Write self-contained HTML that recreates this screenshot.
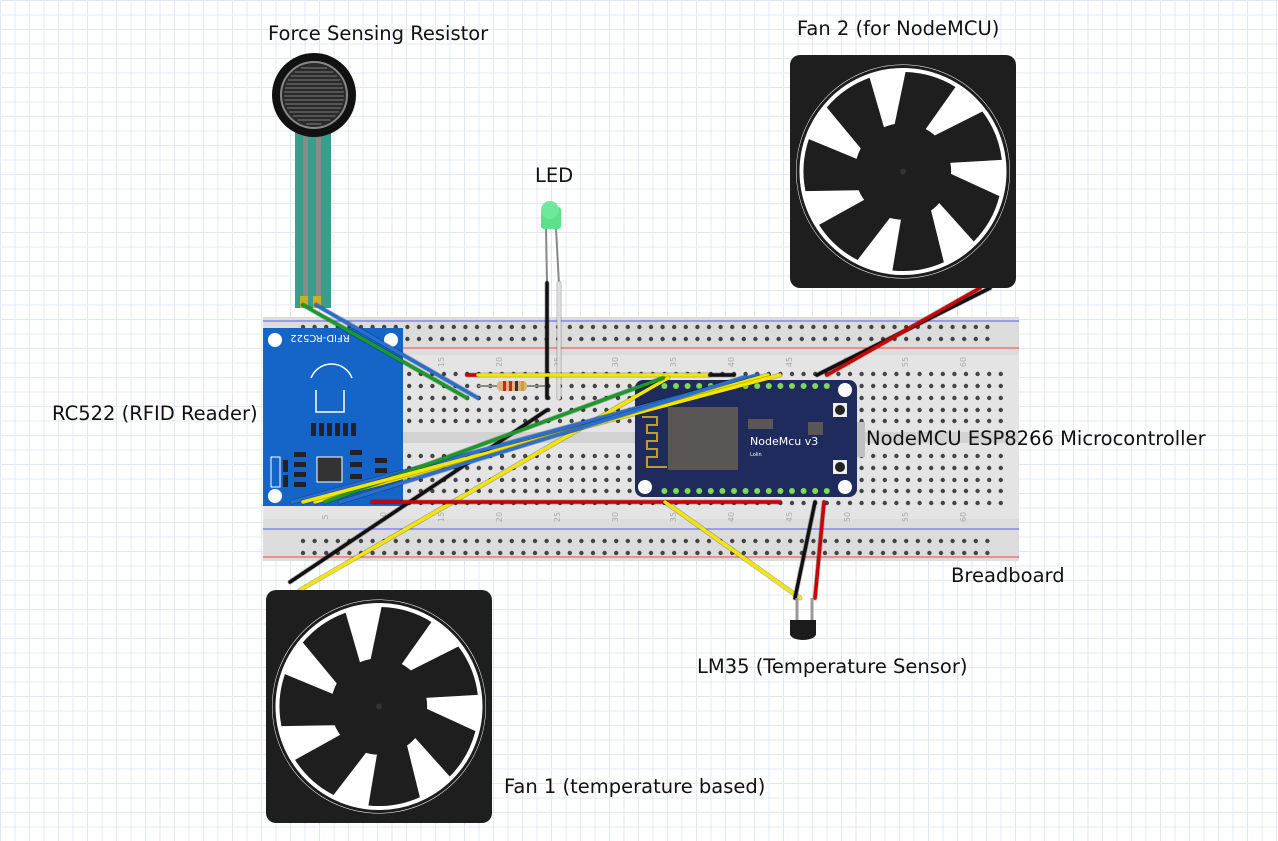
<!DOCTYPE html>
<html><head><meta charset="utf-8">
<style>
html,body{margin:0;padding:0;background:#fff;}
body{width:1278px;height:841px;overflow:hidden;position:relative;
background-image:linear-gradient(#e3e8f0 1px,transparent 1px),linear-gradient(90deg,#e3e8f0 1px,transparent 1px);background-size:14.5px 14.5px;}
svg{position:absolute;left:0;top:0;}
text{font-family:"DejaVu Sans","Liberation Sans",sans-serif;}
</style></head><body>
<svg id="s" width="1278" height="841" viewBox="0 0 1278 841">
<g>
<rect x="263" y="317" width="756" height="244" fill="#dcdcdc"/>
<rect x="263" y="355" width="756" height="77" fill="#e4e4e4"/>
<rect x="263" y="443" width="756" height="76" fill="#e4e4e4"/>
<rect x="263" y="432" width="756" height="11" fill="#d2d2d2"/>
<line x1="263" y1="321" x2="1019" y2="321" stroke="#5a5aff" stroke-width="1"/>
<line x1="263" y1="348" x2="1019" y2="348" stroke="#ff4040" stroke-width="1"/>
<line x1="263" y1="529" x2="1019" y2="529" stroke="#5a5aff" stroke-width="1"/>
<line x1="263" y1="557" x2="1019" y2="557" stroke="#ff4040" stroke-width="1"/>
<g id="holes"></g>
</g>
<g id="fsr">
<rect x="295" y="132" width="36" height="176" fill="#3a9e8c"/>
<rect x="303" y="125" width="5" height="180" fill="#8a8a8a"/>
<rect x="316" y="125" width="5" height="180" fill="#8a8a8a"/>
<rect x="300" y="296" width="8" height="12" fill="#c8b020"/>
<rect x="313" y="296" width="8" height="12" fill="#c8b020"/>
<circle cx="314" cy="95" r="42" fill="#111"/>
<circle cx="314" cy="95" r="33" fill="#2a2a2a" stroke="#888" stroke-width="2"/>
<g id="fsrlines"></g>
</g>
<g>
<line x1="546" y1="228" x2="547" y2="285" stroke="#888" stroke-width="2"/>
<line x1="556" y1="228" x2="559" y2="285" stroke="#888" stroke-width="2"/>
<rect x="541" y="207" width="20" height="22" rx="3" fill="#5de08a"/>
<circle cx="550" cy="210" r="9" fill="#6ee89a"/>
</g>
<g>
<rect x="263" y="328" width="140" height="178" fill="#1565c8"/>
<circle cx="275" cy="340" r="7" fill="#fff"/>
<circle cx="391" cy="340" r="7" fill="#fff"/>
<circle cx="275" cy="496" r="7" fill="#fff"/>
<text x="340" y="343" font-size="10" fill="#fff" text-anchor="middle" transform="rotate(180 330 339)">RFID-RC522</text>
<path d="M311 378 A22 22 0 0 1 352 378" stroke="#fff" stroke-width="1.5" fill="none"/>
<path d="M316 390 L316 412 L344 412 L344 390" stroke="#fff" stroke-width="1.5" fill="none"/>
<g fill="#222"><rect x="311" y="423" width="5" height="13"/><rect x="319" y="423" width="5" height="13"/><rect x="327" y="423" width="5" height="13"/><rect x="335" y="423" width="5" height="13"/><rect x="343" y="423" width="5" height="13"/><rect x="351" y="423" width="5" height="13"/></g>
<rect x="317" y="457" width="25" height="25" fill="#333" stroke="#fff"/>
<rect x="271" y="457" width="9" height="30" fill="#1565c8" stroke="#fff"/>
<g fill="#222"><rect x="294" y="452" width="12" height="5"/><rect x="294" y="462" width="12" height="5"/><rect x="294" y="472" width="12" height="5"/><rect x="294" y="482" width="12" height="5"/><rect x="350" y="450" width="12" height="5"/><rect x="350" y="462" width="12" height="5"/><rect x="350" y="474" width="12" height="5"/><rect x="375" y="458" width="12" height="5"/><rect x="375" y="468" width="12" height="5"/><rect x="283" y="460" width="5" height="12"/><rect x="283" y="475" width="5" height="12"/></g>
</g>
<g>
<rect x="835" y="422" width="30" height="35" fill="#c0c0c0"/>
<rect x="635" y="380" width="222" height="117" rx="8" fill="#1e2b5c"/>
<rect x="668" y="407" width="70" height="63" fill="#5a5656"/>
<rect x="748" y="419" width="25" height="10" fill="#5a5656"/>
<rect x="808" y="422" width="15" height="13" fill="#5a5656"/>
<path d="M642 417 h15 v8 h-10 v8 h10 v8 h-10 v8 h10 v8 h-10 v10 h20" stroke="#c49a2a" stroke-width="2" fill="none"/>
<text x="750" y="445" font-size="11" fill="#fff" font-family="DejaVu Sans Mono,monospace">NodeMcu v3</text>
<text x="750" y="456" font-size="5" fill="#fff">Lolin</text>
<rect x="833" y="403" width="14" height="14" fill="#eee"/><circle cx="840" cy="410" r="5" fill="#222"/>
<rect x="833" y="460" width="14" height="14" fill="#eee"/><circle cx="840" cy="467" r="5" fill="#222"/>
<circle cx="645" cy="487" r="7" fill="#fff"/><circle cx="845" cy="390" r="7" fill="#fff"/><circle cx="845" cy="487" r="7" fill="#fff"/>
<g id="mcupins"></g>
</g>
<g id="res">
<line x1="478" y1="386" x2="545" y2="386" stroke="#888" stroke-width="2"/>
<rect x="497" y="381" width="30" height="10" rx="4" fill="#dcb27a"/>
<rect x="503" y="381" width="3" height="10" fill="#c22"/><rect x="509" y="381" width="3" height="10" fill="#c22"/><rect x="515" y="381" width="3" height="10" fill="#333"/><rect x="521" y="381" width="3" height="10" fill="#c9a227"/>
</g>
<g id="wires"></g>
<g id="fan2"></g>
<g id="fan1"></g>
<g>
<line x1="797" y1="598" x2="797" y2="622" stroke="#999" stroke-width="3"/>
<line x1="812" y1="598" x2="812" y2="622" stroke="#999" stroke-width="3"/>
<path d="M790 620 h26 v14 a13 6 0 0 1 -26 0 z" fill="#1c1c1c"/>
</g>
<g font-size="19.5" fill="#111">
<text x="268" y="40">Force Sensing Resistor</text>
<text x="797" y="35">Fan 2 (for NodeMCU)</text>
<text x="535" y="182">LED</text>
<text x="52" y="420">RC522 (RFID Reader)</text>
<text x="866" y="445">NodeMCU ESP8266 Microcontroller</text>
<text x="951" y="582">Breadboard</text>
<text x="697" y="673">LM35 (Temperature Sensor)</text>
<text x="504" y="793">Fan 1 (temperature based)</text>
</g>
</svg>
<script>
const NS="http://www.w3.org/2000/svg";
function mk(p,tag,at){const e=document.createElementNS(NS,tag);for(const k in at)e.setAttribute(k,at[k]);p.appendChild(e);return e;}
const colX=c=>281.6+(c-1)*11.6;
const holes=document.getElementById('holes');
const mainRows=[374,386,398,410,421,456,468,480,491,503];
for(let c=1;c<=63;c++){for(const y of mainRows)mk(holes,'circle',{cx:colX(c),cy:y,r:2.2,fill:'#444'});}
const railRows=[327,339,541,553];
for(let g=0;g<12;g++)for(let i=0;i<5;i++){const x=303+g*58+i*11.6;for(const y of railRows)mk(holes,'circle',{cx:x,cy:y,r:2.2,fill:'#444'});}
for(const c of [5,10,15,20,25,30,35,40,45,50,55,60]){
 for(const y of [362,517]){const t=mk(holes,'text',{x:colX(c),y:y,'font-size':8,fill:'#aaa','text-anchor':'middle',transform:`rotate(-90 ${colX(c)} ${y})`});t.textContent=c;}
}
const fl=document.getElementById('fsrlines');
for(let y=68;y<=124;y+=4){const dy=y-95,w=Math.sqrt(Math.max(0,900-dy*dy));mk(fl,'line',{x1:314-w,y1:y,x2:314+w,y2:y,stroke:'#999','stroke-width':0.8});}
const mp=document.getElementById('mcupins');
for(let i=0;i<15;i++){mk(mp,'circle',{cx:colX(34)+i*11.6,cy:386,r:3,fill:'#7ed957'});mk(mp,'circle',{cx:colX(34)+i*11.6,cy:491,r:3,fill:'#7ed957'});}
const wires=[
['#1a9a2a',303,305,467,398],['#2a6fd0',316,305,478,398],
['#111',547,283,547,398],['#ddd',559,283,559,398],
['#c00',467,375,478,375],['#f2e600',478,375,710,375],['#111',710,375,734,375],
['#111',547,410,290,582],['#f2e600',668,378,300,590],
['#c00',372,502,780,502],
['#2a6fd0',292,502,758,375],['#f2e600',315,502,768,375],['#1a9a2a',325,502,663,378],['#f2e600',303,502,780,375],['#2a6fd0',340,502,745,377],
['#f2e600',665,502,800,598],['#111',815,502,795,598],['#c00',824,502,815,598],
['#111',817,375,990,288],['#c00',827,375,980,288]
];
const wg=document.getElementById('wires');
for(const w of wires){mk(wg,'line',{x1:w[1],y1:w[2],x2:w[3],y2:w[4],stroke:'#0004','stroke-width':5,'stroke-linecap':'round'});
const l=mk(wg,'line',{x1:w[1],y1:w[2],x2:w[3],y2:w[4],stroke:w[0],'stroke-width':3.5,'stroke-linecap':'round'});

}
function fan(g,x,y,w,h){
 mk(g,'rect',{x:x,y:y,width:w,height:h,rx:10,fill:'#1e1e1e'});
 const cx=x+w/2,cy=y+h/2,r=Math.min(w,h)/2-6;
 mk(g,'circle',{cx:cx,cy:cy,r:r,fill:'#fff'});
 for(let i=0;i<7;i++){const a=i*2*Math.PI/7+0.3;
  const p=(ang,rad)=>[cx+rad*Math.cos(ang),cy+rad*Math.sin(ang)];
  const a1=p(a-0.3,r*0.4),a2=p(a-0.05,r*0.93),a3=p(a+0.48,r*0.93),a4=p(a+0.4,r*0.4);
  mk(g,'path',{d:`M${a1} L${a2} A${r*0.93} ${r*0.93} 0 0 1 ${a3} L${a4} Z`,fill:'#1e1e1e'});}
 mk(g,'circle',{cx:cx,cy:cy,r:r*0.45,fill:'#1e1e1e'});
 mk(g,'circle',{cx:cx,cy:cy,r:r-2,fill:'none',stroke:'#1e1e1e','stroke-width':3});
 mk(g,'circle',{cx:cx,cy:cy,r:3,fill:'#333'});
}
fan(document.getElementById('fan2'),790,55,226,233);
fan(document.getElementById('fan1'),266,590,226,233);
</script>
</body></html>
